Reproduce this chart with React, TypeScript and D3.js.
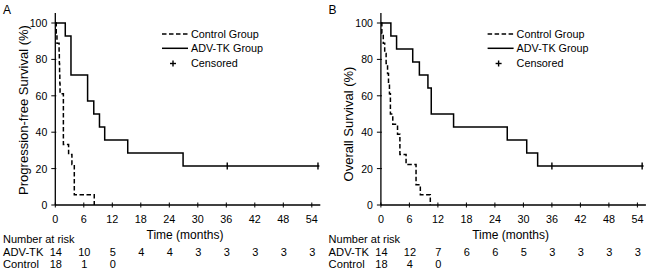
import React from "react";
import * as d3 from "d3";

const xTicks = [0, 6, 12, 18, 24, 30, 36, 42, 48, 54];
const yTicks = [0, 20, 40, 60, 80, 100];

// Panel A: progression-free survival
const pfsAdvTime = [0, 2.1, 3.3, 6.8, 8.1, 9.3, 10.4, 15.25, 26.9, 55.6];
const pfsAdvSurv = [100, 92.9, 71.4, 57.1, 50, 42.9, 35.7, 28.6, 21.4, 21.4];
const pfsAdvCensor = [36.2, 55.3];
const pfsCtrlTime = [0, 0.2, 0.35, 0.8, 0.85, 0.9, 0.95, 1.0, 1.7, 2.8, 3.5, 4.0, 8.2];
const pfsCtrlSurv = [100, 94.4, 88.9, 83.3, 77.8, 72.2, 66.7, 61.1, 33.3, 27.8, 22.2, 5.6, 0];
const pfsRiskAdv = ["14", "10", "5", "4", "4", "3", "3", "3", "3", "3"];
const pfsRiskCtrl = ["18", "1", "0"];

// Panel B: overall survival
const osAdvTime = [0, 2.1, 3.3, 6.7, 8.1, 9.9, 10.6, 15.3, 26.6, 30.7, 33.0, 55.3];
const osAdvSurv = [100, 92.9, 85.7, 78.6, 71.4, 64.3, 50, 42.9, 35.7, 28.6, 21.4, 21.4];
const osAdvCensor = [36.0, 55.0];
const osCtrlTime = [0, 0.2, 0.5, 0.8, 1.1, 1.4, 1.6, 1.8, 2.0, 2.5, 3.5, 4.0, 5.3, 7.4, 8.3, 10.4];
const osCtrlSurv = [100, 94.4, 88.9, 83.3, 77.8, 72.2, 66.7, 61.1, 50, 44.4, 38.9, 27.8, 22.2, 11.1, 5.6, 0];
const osRiskAdv = ["14", "12", "7", "6", "6", "5", "3", "3", "3", "3"];
const osRiskCtrl = ["18", "4", "0"];

const FONT = "'Liberation Sans', Arial, sans-serif";

type PanelProps = {
  ox: number;
  letter: string;
  yLabel: string;
  yLabelCenter: number;
  advT: number[];
  advS: number[];
  advC: number[];
  ctrlT: number[];
  ctrlS: number[];
  riskAdv: string[];
  riskCtrl: string[];
};

function Panel(p: PanelProps) {
  const x0 = p.ox + 55.3;
  const x = d3.scaleLinear().domain([0, 54]).range([x0, x0 + 256.5]);
  const y = d3.scaleLinear().domain([0, 100]).range([205, 23]);
  const line = d3
    .line<[number, number]>()
    .x((d) => x(d[0]))
    .y((d) => y(d[1]))
    .curve(d3.curveStepAfter);
  const advPts = p.advT.map((t, i) => [t, p.advS[i]] as [number, number]);
  const ctrlPts = p.ctrlT.map((t, i) => [t, p.ctrlS[i]] as [number, number]);
  const lastAdv = p.advS[p.advS.length - 1];
  const axisRight = x0 + 265;
  const lx = p.ox + 162;
  return (
    <g fontFamily={FONT} fill="#000">
      <text x={p.ox + 3} y={10} fontSize={12} dominantBaseline="central">
        {p.letter}
      </text>
      {/* axes */}
      <line x1={x0} x2={x0} y1={13} y2={205} stroke="#000" strokeWidth={1.3} />
      <line x1={x0} x2={axisRight} y1={205} y2={205} stroke="#000" strokeWidth={1.3} />
      {yTicks.map((v) => (
        <g key={"y" + v}>
          <line x1={x0 - 4} x2={x0 + 1} y1={y(v)} y2={y(v)} stroke="#000" strokeWidth={1} />
          <text x={x0 - 8} y={y(v)} fontSize={10.5} textAnchor="end" dominantBaseline="central">
            {v}
          </text>
        </g>
      ))}
      {xTicks.map((v) => (
        <g key={"x" + v}>
          <line x1={x(v)} x2={x(v)} y1={202.5} y2={207.5} stroke="#000" strokeWidth={1} />
          <text x={x(v)} y={218.5} fontSize={10.8} textAnchor="middle" dominantBaseline="central">
            {v}
          </text>
        </g>
      ))}
      <text
        transform={`translate(${p.ox + 23},${p.yLabelCenter}) rotate(-90)`}
        fontSize={13}
        textAnchor="middle"
        dominantBaseline="central"
      >
        {p.yLabel}
      </text>
      <text x={p.ox + 185} y={235} fontSize={12} textAnchor="middle" dominantBaseline="central">
        Time (months)
      </text>
      {/* curves */}
      <path d={line(ctrlPts) || ""} fill="none" stroke="#000" strokeWidth={1.5} strokeDasharray="4.5,2.5" />
      <path d={line(advPts) || ""} fill="none" stroke="#000" strokeWidth={1.5} />
      {p.advC.map((c) => (
        <line key={"c" + c} x1={x(c)} x2={x(c)} y1={y(lastAdv) - 3.5} y2={y(lastAdv) + 3.5} stroke="#000" strokeWidth={1.4} />
      ))}
      {/* legend */}
      <line x1={lx} x2={lx + 26} y1={34} y2={34} stroke="#000" strokeWidth={1.5} strokeDasharray="4.5,2.5" />
      <line x1={lx} x2={lx + 26} y1={48.3} y2={48.3} stroke="#000" strokeWidth={1.5} />
      <line x1={lx + 11} x2={lx + 11} y1={60.5} y2={66.5} stroke="#000" strokeWidth={1.4} />
      <line x1={lx + 8} x2={lx + 14} y1={63.5} y2={63.5} stroke="#000" strokeWidth={1.4} />
      <text x={lx + 29} y={34} fontSize={10.8} dominantBaseline="central">Control Group</text>
      <text x={lx + 29} y={48.3} fontSize={10.8} dominantBaseline="central">ADV-TK Group</text>
      <text x={lx + 29} y={63.3} fontSize={10.8} dominantBaseline="central">Censored</text>
      {/* number at risk */}
      <text x={p.ox + 3} y={238.5} fontSize={11} dominantBaseline="central">Number at risk</text>
      <text x={p.ox + 3} y={251.7} fontSize={11.2} dominantBaseline="central">ADV-TK</text>
      <text x={p.ox + 3} y={264} fontSize={11.2} dominantBaseline="central">Control</text>
      {p.riskAdv.map((r, i) => (
        <text key={"ra" + i} x={x(xTicks[i]) + 0.5} y={251.7} fontSize={11} textAnchor="middle" dominantBaseline="central">
          {r}
        </text>
      ))}
      {p.riskCtrl.map((r, i) => (
        <text key={"rc" + i} x={x(xTicks[i]) + 0.5} y={264} fontSize={11} textAnchor="middle" dominantBaseline="central">
          {r}
        </text>
      ))}
    </g>
  );
}

export default function App() {
  return (
    <div style={{ position: "fixed", left: 0, top: 0, width: 650, height: 271, background: "#fff" }}>
      <svg width={650} height={271} viewBox="0 0 650 271" style={{ display: "block" }}>
        <rect width={650} height={271} fill="#fff" />
        <Panel
          ox={0}
          letter="A"
          yLabel="Progression-free Survival (%)"
          yLabelCenter={110}
          advT={pfsAdvTime}
          advS={pfsAdvSurv}
          advC={pfsAdvCensor}
          ctrlT={pfsCtrlTime}
          ctrlS={pfsCtrlSurv}
          riskAdv={pfsRiskAdv}
          riskCtrl={pfsRiskCtrl}
        />
        <Panel
          ox={325.6}
          letter="B"
          yLabel="Overall Survival (%)"
          yLabelCenter={124}
          advT={osAdvTime}
          advS={osAdvSurv}
          advC={osAdvCensor}
          ctrlT={osCtrlTime}
          ctrlS={osCtrlSurv}
          riskAdv={osRiskAdv}
          riskCtrl={osRiskCtrl}
        />
      </svg>
    </div>
  );
}
